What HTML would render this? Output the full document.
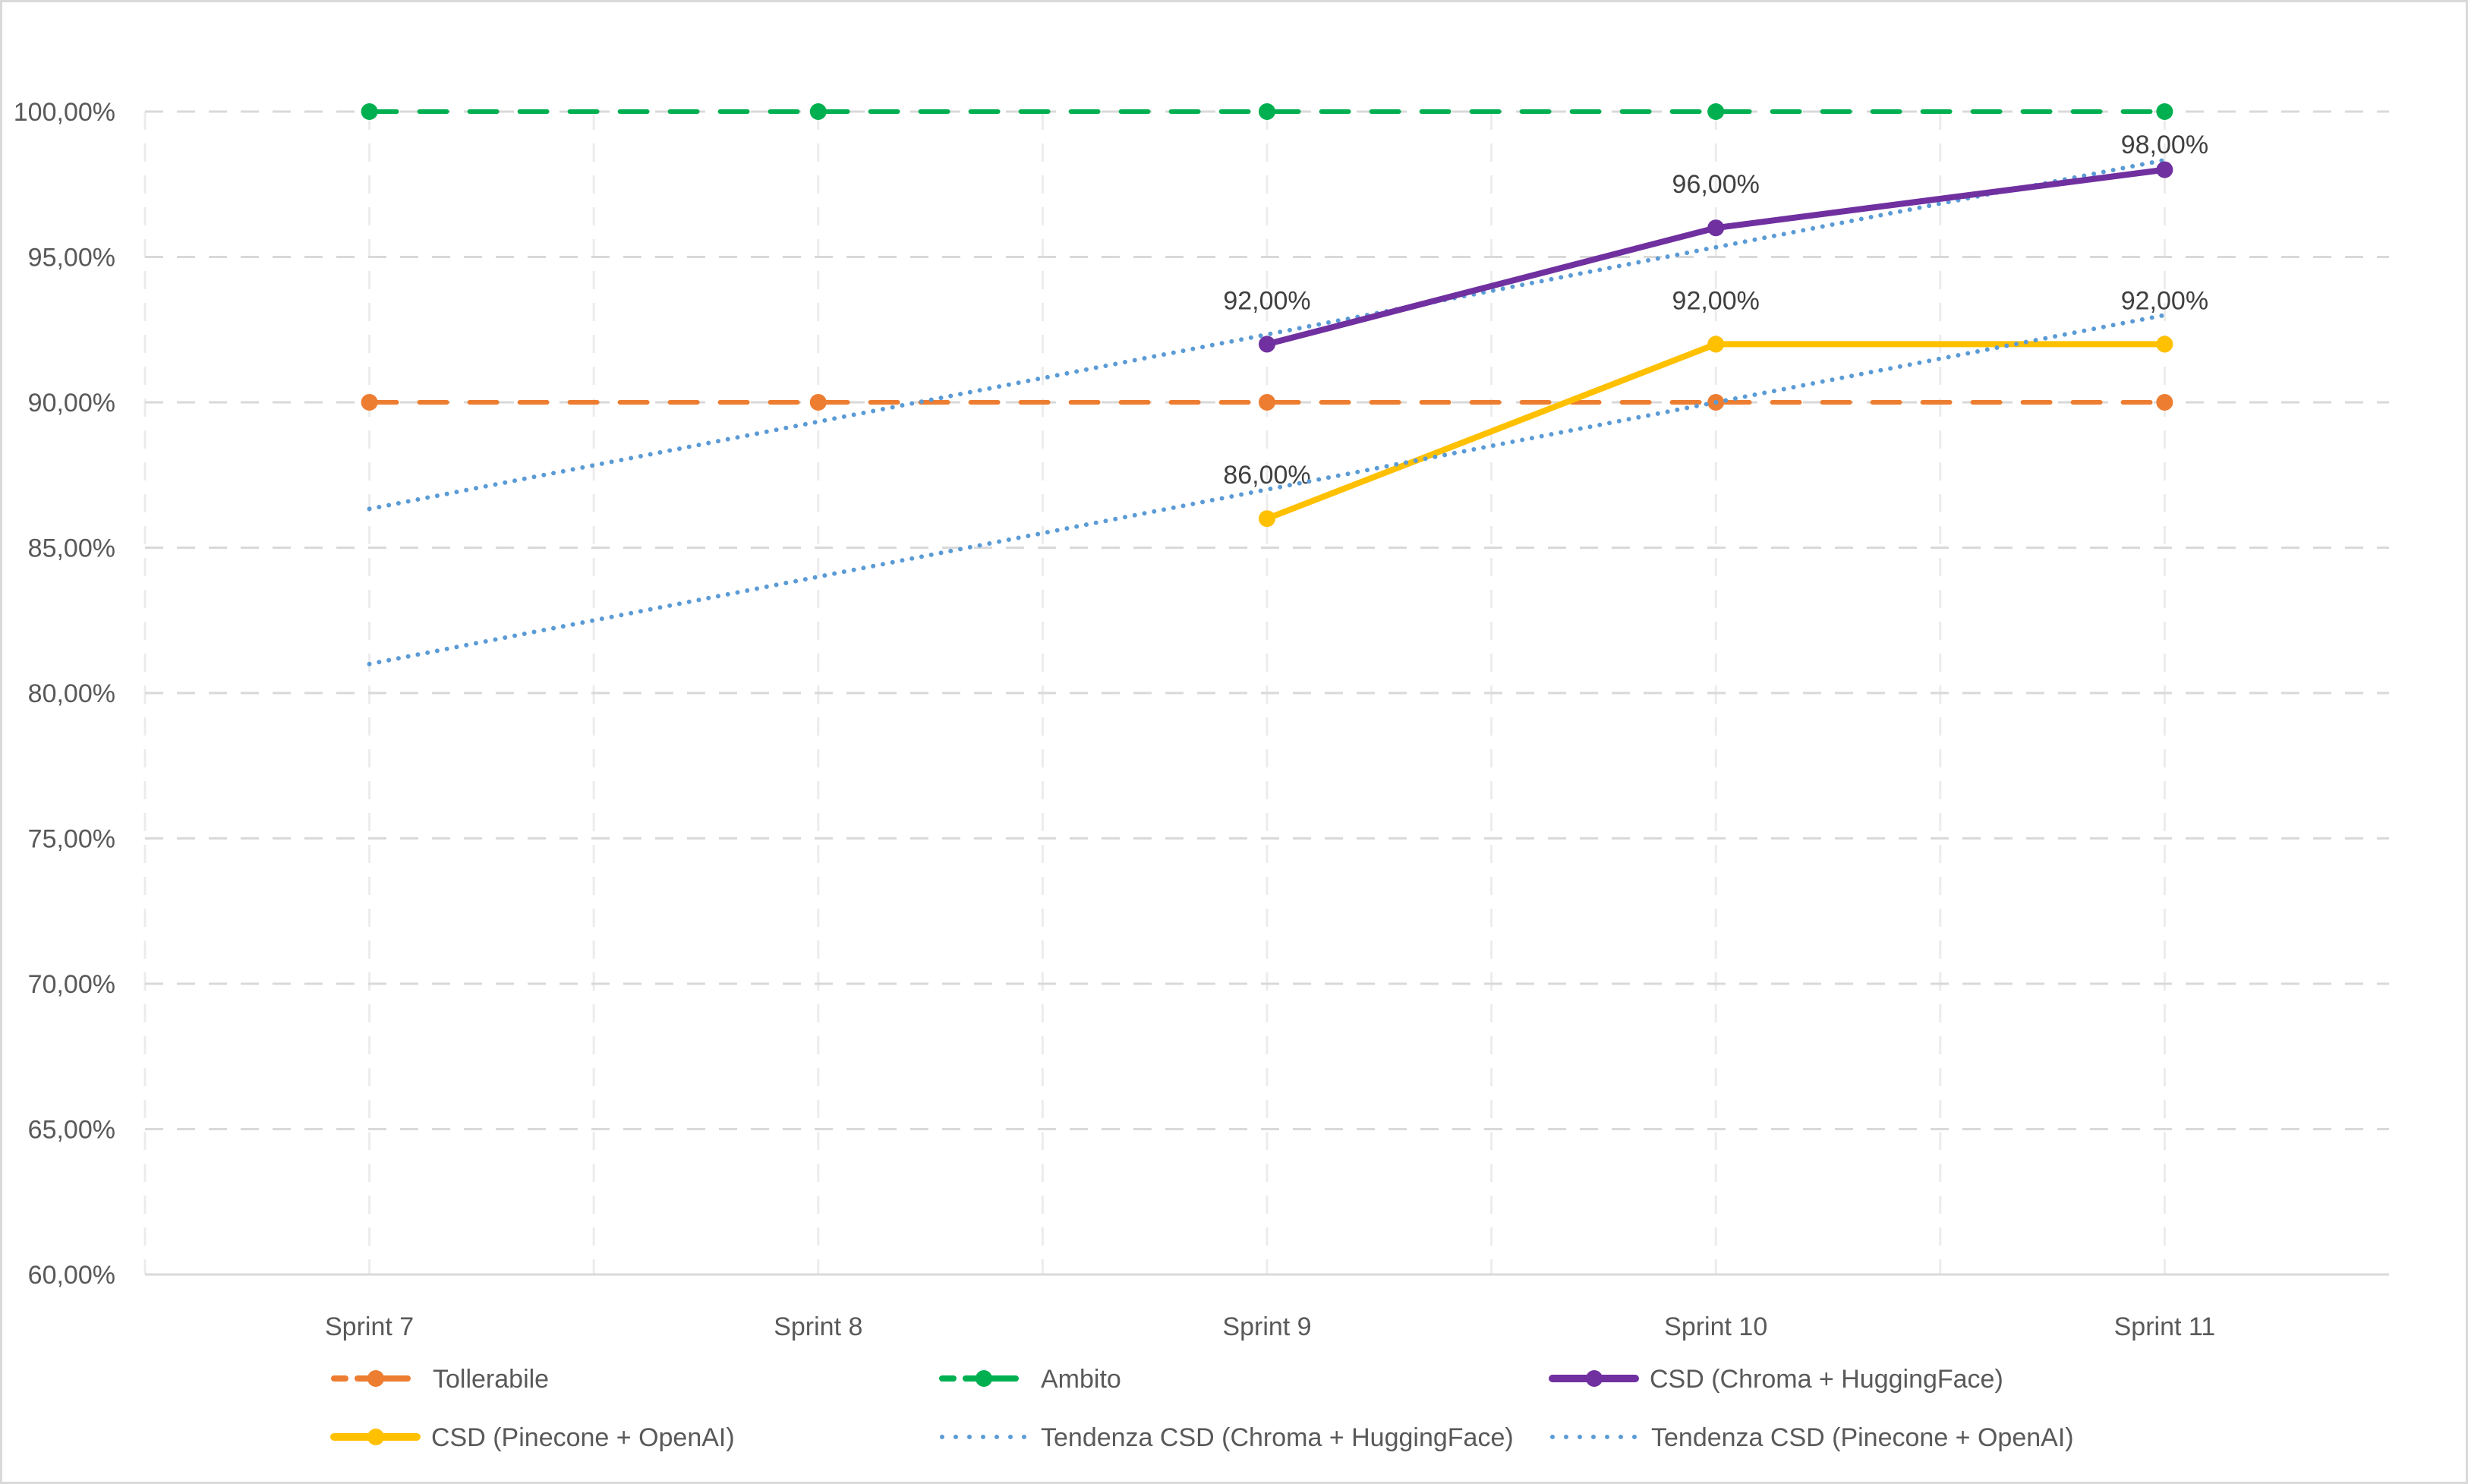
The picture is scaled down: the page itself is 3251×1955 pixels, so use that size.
<!DOCTYPE html>
<html><head><meta charset="utf-8"><style>
html,body{margin:0;padding:0;background:#fff}
svg{display:block}
text{font-family:"Liberation Sans",sans-serif;fill:#595959}
</style></head><body>
<svg id="chart" width="3251" height="1955" viewBox="0 0 3251 1955" xmlns="http://www.w3.org/2000/svg">
<rect x="1.5" y="1.5" width="3248" height="1952" fill="#fff" stroke="#d9d9d9" stroke-width="3"/>
<g id="grid"></g>
<g id="axes"></g>
<g id="series"></g>
<g id="legend"></g>
</svg>
<script>
const categories = ["Sprint 7","Sprint 8","Sprint 9","Sprint 10","Sprint 11"];
const tollerabile = [90,90,90,90,90];
const ambito = [100,100,100,100,100];
const chroma = [null,null,92,96,98];
const pinecone = [null,null,86,92,92];
const yTicks = [60,65,70,75,80,85,90,95,100];

const NS="http://www.w3.org/2000/svg";
const L=191,R=3147,T=147,B=1679,yMin=60,yMax=100;
const cw=(R-L)/categories.length;
const xS=i=>L+cw*(i+0.5);
const yS=v=>B-(v-yMin)/(yMax-yMin)*(B-T);
const fmt=v=>v.toFixed(2).replace('.',',')+'%';
function mk(tag,attrs,parent,text){const e=document.createElementNS(NS,tag);for(const k in attrs)e.setAttribute(k,attrs[k]);if(text!==undefined)e.textContent=text;parent.appendChild(e);return e;}
const grid=document.getElementById('grid'),axes=document.getElementById('axes'),ser=document.getElementById('series'),leg=document.getElementById('legend');

for(let k=0;k<categories.length*2;k++){
  const x=L+k*cw/2;
  const g=mk('line',{x1:x,x2:x,y1:T,y2:B,stroke:'#ececec','stroke-width':3,'stroke-dasharray':'24 18'},grid);
  
  
}
yTicks.forEach(v=>{
  const y=yS(v);
  if(v!==yMin){
    const g=mk('line',{x1:L,x2:R,y1:y,y2:y,stroke:'#d9d9d9','stroke-width':3,'stroke-dasharray':'24 18'},grid);
    
    
  }
  const t=mk('text',{x:152,y:y+12,'font-size':34,'text-anchor':'end'},axes,fmt(v));
  
  
});
const ax=mk('line',{x1:L,x2:R,y1:B,y2:B,stroke:'#d9d9d9','stroke-width':3},axes);


categories.forEach((c,i)=>{
  const t=mk('text',{x:xS(i),y:1759,'font-size':34,'text-anchor':'middle'},axes,c);
  
  
});

function trend(vals){
  const pts=[];vals.forEach((v,i)=>{if(v!==null)pts.push([i,v]);});
  const n=pts.length,mx=pts.reduce((a,p)=>a+p[0],0)/n,my=pts.reduce((a,p)=>a+p[1],0)/n;
  let num=0,den=0;pts.forEach(p=>{num+=(p[0]-mx)*(p[1]-my);den+=(p[0]-mx)**2;});
  const s=num/den,b=my-s*mx;return i=>b+s*i;
}
function drawTrend(vals,name){
  const f=trend(vals);const last=categories.length-1;
  const l=mk('line',{x1:xS(0),y1:yS(f(0)),x2:xS(last),y2:yS(f(last)),stroke:'#5B9BD5','stroke-width':6,'stroke-linecap':'round','stroke-dasharray':'0 13'},ser);
  
  
}
function drawSeries(vals,color,dash,name,labels){
  const pts=[];vals.forEach((v,i)=>{if(v!==null)pts.push([xS(i),yS(v),v]);});
  const p=mk('polyline',{points:pts.map(q=>q[0]+','+q[1]).join(' '),fill:'none',stroke:color,'stroke-width':dash?6:8,'stroke-linecap':'round','stroke-linejoin':'round'},ser);
  if(dash)p.setAttribute('stroke-dasharray',dash);
  
  
  pts.forEach(q=>{
    const c=mk('circle',{cx:q[0],cy:q[1],r:11,fill:color},ser);
    
    
    if(labels){
      const ly=Math.max(q[1]-46,T+55);
      const t=mk('text',{x:q[0],y:ly,'font-size':34,'text-anchor':'middle',style:'fill:#404040'},ser,fmt(q[2]));
      
      
    }
  });
}
drawSeries(tollerabile,'#ED7D31','36 30','tollerabile',false);
drawSeries(ambito,'#00B050','36 30','ambito',false);
drawSeries(pinecone,'#FFC000',null,'csd-pinecone',true);
drawTrend(chroma,'trend-chroma');
drawTrend(pinecone,'trend-pinecone');
drawSeries(chroma,'#7030A0',null,'csd-chroma',true);

const legendItems=[
 {label:'Tollerabile',color:'#ED7D31',type:'dash',x:437,y:1816},
 {label:'Ambito',color:'#00B050',type:'dash',x:1238,y:1816},
 {label:'CSD (Chroma + HuggingFace)',color:'#7030A0',type:'solid',x:2042,y:1816},
 {label:'CSD (Pinecone + OpenAI)',color:'#FFC000',type:'solid',x:437,y:1893},
 {label:'Tendenza CSD (Chroma + HuggingFace)',color:'#5B9BD5',type:'dot',x:1238,y:1893},
 {label:'Tendenza CSD (Pinecone + OpenAI)',color:'#5B9BD5',type:'dot',x:2042,y:1893}
];
legendItems.forEach(it=>{
  const g=mk('g',{},leg);
  
  
  if(it.type==='dash'){
    mk('line',{x1:it.x+3,x2:it.x+18,y1:it.y,y2:it.y,stroke:it.color,'stroke-width':8,'stroke-linecap':'round'},g);
    mk('line',{x1:it.x+34,x2:it.x+100,y1:it.y,y2:it.y,stroke:it.color,'stroke-width':8,'stroke-linecap':'round'},g);
    mk('circle',{cx:it.x+58,cy:it.y,r:11,fill:it.color},g);
  }else if(it.type==='solid'){
    mk('line',{x1:it.x+3,x2:it.x+112,y1:it.y,y2:it.y,stroke:it.color,'stroke-width':10,'stroke-linecap':'round'},g);
    mk('circle',{cx:it.x+58,cy:it.y,r:11,fill:it.color},g);
  }else{
    mk('line',{x1:it.x+3,x2:it.x+112,y1:it.y,y2:it.y,stroke:it.color,'stroke-width':6,'stroke-linecap':'round','stroke-dasharray':'0 18'},g);
  }
  const tx=it.x+(it.type==='solid'?131:133);
  mk('text',{x:tx,y:it.y+12,'font-size':34},g,it.label);
});
</script>
</body></html>
